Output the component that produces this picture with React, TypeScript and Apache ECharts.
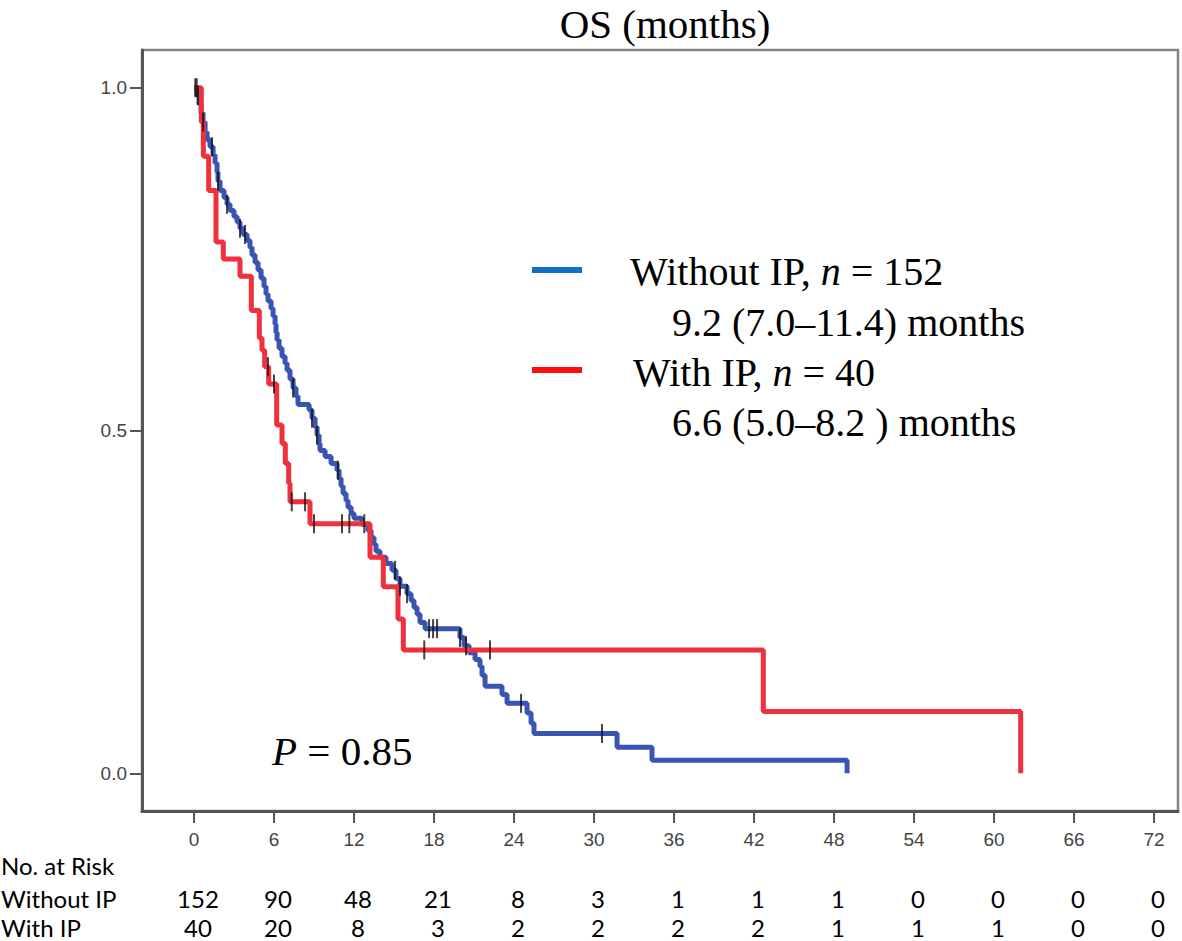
import React, { useEffect, useRef } from "react";
import * as echarts from "echarts";

const chartTitle = "OS (months)";
const xTicks = [0, 6, 12, 18, 24, 30, 36, 42, 48, 54, 60, 66, 72];
const yTicks = [0, 0.5, 1.0];

// Kaplan-Meier steps: [month, survival after the drop]
const withoutIP: [number, number][] = [
  [0, 1.0], [0.23, 0.989], [0.38, 0.976], [0.53, 0.963], [0.68, 0.95], [0.83, 0.935],
  [0.98, 0.924], [1.2, 0.914], [1.43, 0.902], [1.58, 0.89], [1.73, 0.877], [1.8, 0.864],
  [1.95, 0.85], [2.25, 0.84], [2.48, 0.83], [2.7, 0.821], [3.0, 0.812], [3.23, 0.804],
  [3.45, 0.795], [3.68, 0.786], [3.98, 0.777], [4.2, 0.767], [4.35, 0.756], [4.58, 0.745],
  [4.8, 0.734], [5.03, 0.722], [5.25, 0.71], [5.4, 0.699], [5.55, 0.689], [5.78, 0.678],
  [5.93, 0.667], [6.08, 0.655], [6.15, 0.643], [6.23, 0.632], [6.38, 0.62], [6.6, 0.608],
  [6.83, 0.598], [6.98, 0.588], [7.2, 0.575], [7.43, 0.562], [7.65, 0.55], [7.8, 0.538],
  [8.63, 0.53], [8.85, 0.518], [9.08, 0.505], [9.23, 0.493], [9.38, 0.481], [9.45, 0.471],
  [9.83, 0.462], [10.28, 0.452], [10.73, 0.442], [10.88, 0.43], [11.03, 0.419], [11.18, 0.408],
  [11.4, 0.398], [11.55, 0.388], [11.78, 0.379], [12.0, 0.372], [12.6, 0.363], [13.05, 0.354],
  [13.28, 0.344], [13.5, 0.334], [13.65, 0.324], [13.95, 0.315], [14.4, 0.306], [14.85, 0.296],
  [15.15, 0.284], [15.45, 0.273], [15.98, 0.262], [16.28, 0.252], [16.5, 0.242], [16.73, 0.232],
  [16.95, 0.22], [17.33, 0.211], [19.95, 0.198], [20.25, 0.186], [20.63, 0.176], [21.08, 0.166],
  [21.45, 0.156], [21.6, 0.143], [21.83, 0.127], [23.1, 0.115], [23.48, 0.102], [24.98, 0.088],
  [25.28, 0.073], [25.5, 0.058], [31.73, 0.038], [34.35, 0.019], [48.98, 0.0],
];
const withIP: [number, number][] = [
  [0, 1.0], [0.55, 0.95], [0.7, 0.9], [1.1, 0.85], [1.65, 0.775], [2.2, 0.75], [3.45, 0.725],
  [4.3, 0.675], [4.9, 0.635], [5.1, 0.617], [5.3, 0.593], [5.6, 0.568], [6.2, 0.508],
  [6.6, 0.481], [6.85, 0.452], [7.1, 0.423], [7.2, 0.396], [8.7, 0.364], [13.2, 0.315],
  [14.2, 0.272], [15.3, 0.225], [15.7, 0.18], [42.7, 0.09], [62.0, 0.0],
];
const withoutIPCensored = [0.1, 0.2, 0.3, 0.68, 1.35, 1.8, 2.48, 3.45, 3.83, 7.43, 8.85, 9.23,
  10.8, 15.08, 15.45, 15.98, 17.63, 17.93, 18.23, 19.95, 20.4, 24.53, 30.6];
const withIPCensored = [5.55, 6.0, 7.33, 8.33, 9.0, 11.1, 11.65, 12.77, 17.27, 22.2];

const riskWithoutIP = [152, 90, 48, 21, 8, 3, 1, 1, 1, 0, 0, 0, 0];
const riskWithIP = [40, 20, 8, 3, 2, 2, 2, 2, 1, 1, 1, 0, 0];

const legendWithout = "Without IP, {i|n} = 152";
const legendWithoutMedian = "9.2 (7.0\u201311.4) months";
const legendWith = "With IP, {i|n} = 40";
const legendWithMedian = "6.6 (5.0\u20138.2 ) months";
const pValueText = "{i|P} = 0.85";

const BLUE = "#3a54b4";
const RED = "#f0303c";
const SERIF = "'Liberation Serif', 'Times New Roman', serif";
const SANS = "'Liberation Sans', Arial, sans-serif";
const CAL = "Lato, 'Open Sans', sans-serif";

function survivalAt(steps: [number, number][], t: number) {
  let s = steps[0][1];
  for (const [tt, v] of steps) {
    if (tt <= t) s = v;
    else break;
  }
  return s;
}

export default function App() {
  const ref = useRef<HTMLDivElement>(null);
  useEffect(() => {
    if (!ref.current) return;
    const chart = echarts.init(ref.current, null, { renderer: "svg" });
    const censorSymbol = { symbol: "rect", symbolSize: [2, 19] };
    chart.setOption({
      animation: false,
      backgroundColor: "#ffffff",
      grid: {
        left: 142, right: 4, top: 50, bottom: 130,
        show: true, borderColor: "#858585", borderWidth: 2.5,
      },
      xAxis: {
        type: "value", min: -3.9, max: 73.8,
        axisLine: { onZero: false, lineStyle: { color: "#555", width: 3 } },
        axisTick: { show: true, customValues: xTicks, length: 12, lineStyle: { color: "#555", width: 2 } },
        axisLabel: { customValues: xTicks, margin: 19, fontSize: 19, color: "#444", fontFamily: SANS },
        splitLine: { show: false },
      },
      yAxis: {
        type: "value", min: -0.055, max: 1.055,
        axisLine: { show: true, onZero: false, lineStyle: { color: "#555", width: 3 } },
        axisTick: { show: true, customValues: yTicks, length: 12, lineStyle: { color: "#555", width: 2 } },
        axisLabel: {
          customValues: yTicks, margin: 15, fontSize: 19, color: "#444", fontFamily: SANS,
          formatter: (v: number) => v.toFixed(1),
        },
        splitLine: { show: false },
      },
      series: [
        {
          name: "Without IP", type: "line", step: "end", data: withoutIP, showSymbol: false,
          lineStyle: { color: BLUE, width: 5 }, itemStyle: { color: BLUE }, z: 2,
        },
        {
          name: "With IP", type: "line", step: "end", data: withIP, showSymbol: false,
          lineStyle: { color: RED, width: 5 }, itemStyle: { color: RED }, z: 3,
        },
        {
          name: "Without IP censored", type: "scatter", ...censorSymbol,
          data: withoutIPCensored.map((t) => [t, survivalAt(withoutIP, t)]),
          itemStyle: { color: "#151515" }, z: 4,
        },
        {
          name: "With IP censored", type: "scatter", ...censorSymbol,
          data: withIPCensored.map((t) => [t, survivalAt(withIP, t)]),
          itemStyle: { color: "#151515" }, z: 4,
        },
      ],
    });

    const px = (t: number) => chart.convertToPixel({ xAxisIndex: 0 }, t) as number;
    const serifText = (text: string, x: number, y: number, size: number, align = "left") => ({
      type: "text",
      style: {
        text, x, y, fill: "#000", fontFamily: SERIF, fontSize: size,
        align, verticalAlign: "middle",
        rich: { i: { fontStyle: "italic", fontFamily: SERIF, fontSize: size, fill: "#000" } },
      },
    });
    const calText = (text: string, x: number, y: number, align = "left") => ({
      type: "text",
      style: { text, x, y, fill: "#000", fontFamily: CAL, fontSize: 24, align, verticalAlign: "middle" },
    });

    const graphics: any[] = [
      serifText(chartTitle, 665, 24, 41, "center"),
      { type: "line", shape: { x1: 532, y1: 270, x2: 582, y2: 270 }, style: { stroke: "#1070c8", lineWidth: 6 } },
      { type: "line", shape: { x1: 532, y1: 370, x2: 582, y2: 370 }, style: { stroke: "#ff0d0d", lineWidth: 6 } },
      serifText(legendWithout, 630, 271, 40),
      serifText(legendWithoutMedian, 672, 322, 40),
      serifText(legendWith, 633, 372, 40),
      serifText(legendWithMedian, 672, 422, 40),
      serifText(pValueText, 272, 751, 41),
      calText("No. at Risk", 1, 865),
      calText("Without IP", 1, 898),
      calText("With IP", 1, 927),
    ];
    xTicks.forEach((t, i) => {
      graphics.push(calText(String(riskWithoutIP[i]), px(t) + 4, 898, "center"));
      graphics.push(calText(String(riskWithIP[i]), px(t) + 4, 927, "center"));
    });
    chart.setOption({ graphic: graphics });

    return () => chart.dispose();
  }, []);
  return (
    <div
      ref={ref}
      style={{ position: "absolute", left: 0, top: 0, width: 1182, height: 941, background: "#fff" }}
    />
  );
}
